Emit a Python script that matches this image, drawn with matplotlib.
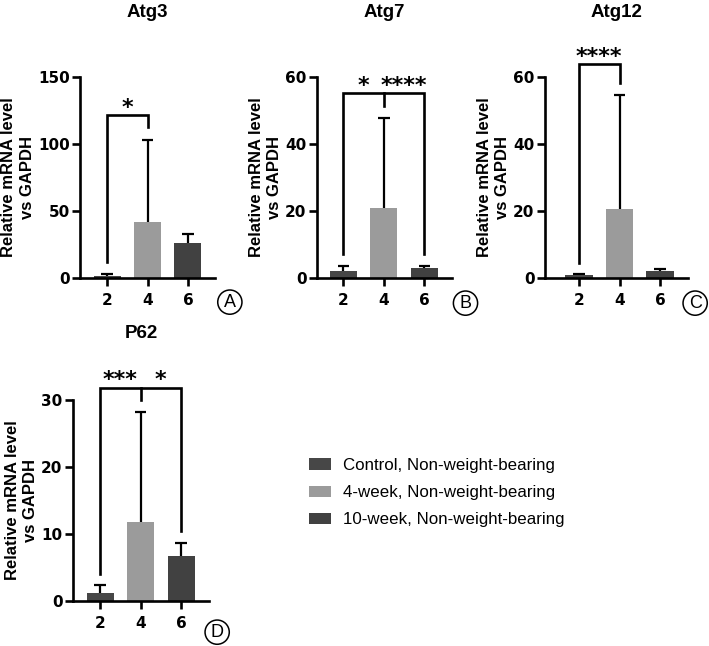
import matplotlib.pyplot as plt
from matplotlib.patches import Patch
import numpy as np

# x categories (weeks)
weeks = ["2", "4", "6"]
groups = ["Control, Non-weight-bearing", "4-week, Non-weight-bearing", "10-week, Non-weight-bearing"]
colors = ["#474747", "#9b9b9b", "#414141"]

# mean and upper SD
atg3_mean = [1.7, 41.5, 26]
atg3_err = [1.3, 61.5, 7]
atg7_mean = [2.1, 20.9, 3.0]
atg7_err = [1.5, 26.9, 0.6]
atg12_mean = [0.8, 20.6, 2.1]
atg12_err = [0.5, 34.0, 0.7]
p62_mean = [1.25, 11.75, 6.7]
p62_err = [1.1, 16.45, 2.0]

# significance brackets: (left bar, right bar, top, left leg end, right leg end)
atg3_br = [(0, 1, 121.5, 12, 113)]
atg7_br = [(0, 2, 55.1, 7.1, 7.1)]
atg12_br = [(0, 1, 63.8, 4.6, 58.3)]
p62_br = [(0, 2, 31.8, 4.1, 10.4)]
atg7_mid = 51.3
p62_mid = 30.0

W, H = 709, 646
fig = plt.figure(figsize=(W / 100, H / 100), dpi=100)
plt.rcParams['font.family'] = 'DejaVu Sans'


def px_axes(l, r, t, b):
    return fig.add_axes([l / W, 1 - b / H, (r - l) / W, (b - t) / H])


def draw_panel(ax, title, mean, err, ymax, yticks, xlim, letter, lx, ly, ty=1.30):
    x = np.arange(3)
    mean = np.array(mean)
    err = np.array(err)
    # error line first, bar covers the part below the mean
    ax.vlines(x, 0, mean + err, color='black', lw=1.6, zorder=1)
    ax.hlines(mean + err, x - 0.14, x + 0.14, color='black', lw=1.6, zorder=1)
    ax.bar(x, mean, width=0.67, color=colors, edgecolor='none', zorder=2)
    ax.set_ylim(0, ymax)
    ax.set_xlim(*xlim)
    ax.set_yticks(yticks)
    ax.set_xticks(x)
    ax.set_xticklabels(weeks)
    for s in ['top', 'right']:
        ax.spines[s].set_visible(False)
    for s in ['left', 'bottom']:
        ax.spines[s].set_linewidth(1.9)
        ax.spines[s].set_zorder(5)
    ax.tick_params(width=1.9, length=5.5, labelsize=11)
    ax.tick_params(axis='x', pad=5)
    ax.tick_params(axis='y', pad=2)
    for lab in ax.get_xticklabels() + ax.get_yticklabels():
        lab.set_fontweight('bold')
    ax.set_ylabel("Relative mRNA level\nvs GAPDH", fontsize=12, fontweight='bold',
                  family='Liberation Sans', labelpad=2, linespacing=1.3)
    ax.text(0.5, ty, title, transform=ax.transAxes, ha='center', va='baseline',
            fontsize=13.5, fontweight='bold', family='Liberation Sans')
    ax.text(lx, ly, letter, transform=ax.transAxes, ha='center', va='center',
            fontsize=13, family='Liberation Sans',
            bbox=dict(boxstyle='circle,pad=0.2', fc='white', ec='black', lw=1.1))


def bracket(ax, br):
    for (a, b, top, la, lb) in br:
        ax.plot([a, a, b, b], [la, top, top, lb], color='black', lw=1.9,
                clip_on=False, solid_joinstyle='miter', zorder=4)


def stars(ax, xs, y, labels):
    for xx, lab in zip(xs, labels):
        ax.text(xx, y, lab, ha='center', va='baseline', fontsize=16,
                fontweight='bold', clip_on=False)


# Atg3
ax1 = px_axes(80, 215, 77, 278)
draw_panel(ax1, "Atg3", atg3_mean, atg3_err, 150, [0, 50, 100, 150], (-0.67, 2.67), "A", 1.11, -0.12)
bracket(ax1, atg3_br)
stars(ax1, [0.5], 122.5, ["*"])

# Atg7
ax2 = px_axes(317, 452, 77, 278)
draw_panel(ax2, "Atg7", atg7_mean, atg7_err, 60, [0, 20, 40, 60], (-0.65, 2.68), "B", 1.10, -0.125)
bracket(ax2, atg7_br)
ax2.plot([1, 1], [atg7_br[0][2], atg7_mid], color='black', lw=1.9, clip_on=False)
stars(ax2, [0.5, 1.5], 55.5, ["*", "****"])

# Atg12
ax3 = px_axes(545, 688, 77, 278)
draw_panel(ax3, "Atg12", atg12_mean, atg12_err, 60, [0, 20, 40, 60], (-0.84, 2.69), "C", 1.05, -0.125)
bracket(ax3, atg12_br)
stars(ax3, [0.5], 64.2, ["****"])

# P62
ax4 = px_axes(73, 209, 400, 601)
draw_panel(ax4, "P62", p62_mean, p62_err, 30, [0, 10, 20, 30], (-0.67, 2.69), "D", 1.06, -0.155, ty=1.31)
bracket(ax4, p62_br)
ax4.plot([1, 1], [p62_br[0][2], p62_mid], color='black', lw=1.9, clip_on=False)
stars(ax4, [0.5, 1.5], 32.1, ["***", "*"])

# legend
handles = [Patch(facecolor=c, edgecolor='none') for c in colors]
fig.legend(handles, groups, loc='upper left', bbox_to_anchor=(309 / W, 1 - 458 / H),
           frameon=False, prop={'family': 'Liberation Sans', 'size': 12.2},
           borderpad=0, borderaxespad=0,
           handlelength=1.3, handleheight=0.65, handletextpad=0.7, labelspacing=0.72)

plt.savefig('out.png', dpi=100)
